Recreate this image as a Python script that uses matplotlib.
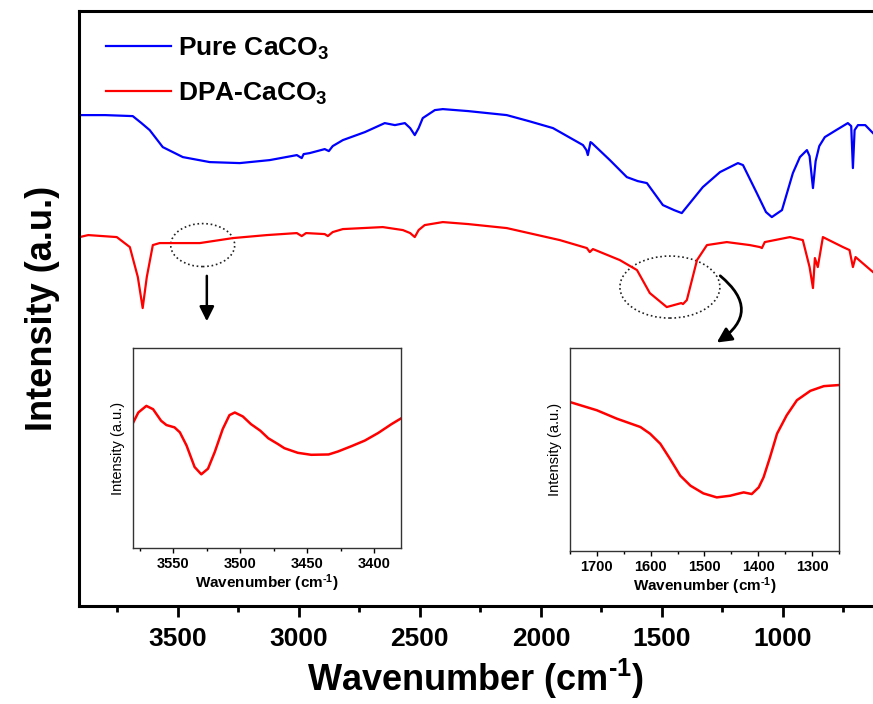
import matplotlib
matplotlib.use('Agg')
import matplotlib.pyplot as plt
from matplotlib.patches import Ellipse, FancyArrowPatch
from matplotlib.ticker import MultipleLocator

plt.rcParams['font.family'] = ['Liberation Sans', 'DejaVu Sans']
plt.rcParams['mathtext.fontset'] = 'custom'
plt.rcParams['mathtext.rm'] = 'Liberation Sans:bold'
plt.rcParams['mathtext.default'] = 'rm'

# 主图数据 (波数, 强度 a.u.)
wn_pure = [3905, 3800, 3686, 3650, 3616, 3562, 3479, 3368, 3244, 3120, 3008, 2988, 2980,
           2955, 2893, 2876, 2860, 2818, 2727, 2645, 2603, 2562, 2540, 2521, 2505, 2488,
           2438, 2405, 2300, 2141, 2050, 1950, 1826, 1812, 1806, 1795, 1789, 1715, 1645,
           1600, 1562, 1496, 1450, 1418, 1331, 1260, 1186, 1165, 1108, 1070, 1046, 1004,
           959, 930, 901, 890, 876, 865, 850, 827, 780, 732, 718, 711, 704, 690, 660, 628]
int_pure = [49.1, 49.1, 49.0, 48.3, 47.6, 45.9, 44.9, 44.4, 44.3, 44.6, 45.1, 44.8, 45.2,
            45.3, 45.7, 45.5, 46.0, 46.6, 47.4, 48.3, 48.1, 48.3, 47.8, 47.1, 47.8, 48.8,
            49.6, 49.7, 49.5, 49.1, 48.5, 47.8, 46.1, 45.6, 45.1, 46.4, 46.3, 44.6, 42.9,
            42.5, 42.3, 40.1, 39.6, 39.3, 41.9, 43.4, 44.3, 44.1, 41.3, 39.4, 38.9, 39.6,
            43.3, 44.9, 45.6, 45.0, 41.8, 44.5, 46.0, 46.9, 47.6, 48.3, 48.0, 43.8, 47.6,
            48.1, 48.1, 47.3]

wn_dpa = [3905, 3870, 3752, 3698, 3665, 3645, 3628, 3603, 3575, 3409, 3272, 3132, 3008,
          2988, 2970, 2893, 2880, 2860, 2818, 2653, 2570, 2540, 2521, 2505, 2480, 2405,
          2300, 2141, 1922, 1810, 1798, 1785, 1674, 1603, 1550, 1480, 1450, 1420, 1413,
          1397, 1355, 1314, 1232, 1137, 1095, 1087, 1075, 971, 918, 890, 876, 868, 856,
          835, 752, 725, 711, 700, 628]
int_dpa = [36.9, 37.1, 36.9, 35.9, 32.9, 29.8, 32.9, 36.1, 36.3, 36.3, 36.8, 37.1, 37.3,
           37.0, 37.3, 37.2, 37.0, 37.4, 37.7, 37.9, 37.6, 37.3, 36.9, 37.6, 38.1, 38.4,
           38.2, 37.8, 36.6, 35.8, 35.4, 35.7, 34.6, 33.6, 31.3, 29.9, 30.1, 30.3, 30.2,
           30.6, 34.6, 36.1, 36.4, 36.1, 35.9, 35.8, 36.4, 36.9, 36.6, 33.9, 31.8, 34.8,
           33.9, 36.9, 35.9, 35.6, 33.9, 34.9, 33.4]

# 左侧放大图
wn_ins1 = [3581, 3576, 3570, 3565, 3559, 3555, 3549, 3545, 3540, 3534, 3529, 3524, 3519,
           3513, 3508, 3504, 3498, 3492, 3485, 3479, 3472, 3467, 3457, 3447, 3434, 3427,
           3417, 3407, 3397, 3387, 3380]
int_ins1 = [370, 410, 430, 420, 385, 372, 365, 350, 310, 245, 223, 240, 290, 360, 402, 410,
            398, 375, 355, 332, 315, 302, 288, 282, 283, 292, 308, 325, 348, 375, 392]

# 右侧放大图
wn_ins2 = [1751, 1700, 1663, 1619, 1601, 1582, 1564, 1545, 1526, 1502, 1477, 1452, 1440,
           1427, 1412, 1399, 1390, 1378, 1365, 1347, 1328, 1303, 1278, 1252]
int_ins2 = [445, 420, 395, 370, 350, 320, 275, 225, 195, 172, 160, 165, 170, 175, 170, 190,
            220, 280, 350, 405, 450, 478, 492, 495]

xlab = r'Wavenumber (cm$^{\text{-1}}$)'

fig = plt.figure(figsize=(8.73, 7.04), dpi=100)
ax = fig.add_axes([0.0905, 0.1392, 0.9095, 0.845])

ax.plot(wn_pure, int_pure, color='#0000ff', lw=1.6, label=r'Pure CaCO$_3$')
ax.plot(wn_dpa, int_dpa, color='#ff0000', lw=1.6, label=r'DPA-CaCO$_3$')
ax.set_xlim(3908, 628)
ax.set_ylim(0, 59.5)
ax.set_yticks([])
ax.xaxis.set_major_locator(MultipleLocator(500))
ax.xaxis.set_minor_locator(MultipleLocator(250))
ax.tick_params(axis='x', which='major', direction='out', length=8, width=2, pad=7)
ax.tick_params(axis='x', which='minor', direction='out', length=4.5, width=2)
for lab in ax.get_xticklabels():
    lab.set_fontsize(19)
    lab.set_fontweight('bold')
for s in ['left', 'bottom', 'top']:
    ax.spines[s].set_linewidth(2.2)
ax.spines['right'].set_visible(False)
ax.set_xlabel(xlab, fontsize=26, fontweight='bold', labelpad=4)
ax.set_ylabel('Intensity (a.u.)', fontsize=26, fontweight='bold', labelpad=14)

leg = ax.legend(loc='upper left', frameon=False, prop={'size': 19, 'weight': 'bold'},
                handlelength=2.45, handletextpad=0.3, labelspacing=0.7,
                bbox_to_anchor=(-0.006, 1.012), borderaxespad=0.8)

# 虚线椭圆和箭头
ax.add_patch(Ellipse((3397, 36.1), width=264, height=4.3, fill=False, ls=':', lw=1.2,
                     color='#222222'))
ax.add_patch(Ellipse((1467, 31.9), width=413, height=6.2, fill=False, ls=':', lw=1.2,
                     color='#222222'))
ax.annotate('', xy=(3380, 28.2), xytext=(3380, 33.3),
            arrowprops=dict(arrowstyle='-|>', lw=1.8, color='black', mutation_scale=22))
ax.add_patch(FancyArrowPatch((1268, 33.2), (1283, 26.2), connectionstyle='arc3,rad=-0.7',
                             arrowstyle='-|>', lw=2.0, color='black', mutation_scale=22))

def style_inset(a):
    a.set_yticks([])
    a.tick_params(axis='x', which='major', direction='out', length=3.5, width=1, pad=3,
                  labelsize=10.5)
    a.tick_params(axis='x', which='minor', direction='out', length=2, width=1)
    for lab in a.get_xticklabels():
        lab.set_fontweight('bold')
    for s in a.spines.values():
        s.set_linewidth(1.0)
        s.set_color('#333333')
    a.set_xlabel(xlab, fontsize=11, fontweight='bold', labelpad=1)
    a.set_ylabel('Intensity (a.u.)', fontsize=10.5, labelpad=6)

ins1 = fig.add_axes([0.1523, 0.2216, 0.307, 0.284])
ins1.plot(wn_ins1, int_ins1, color='#ff0000', lw=1.8)
ins1.set_xlim(3580, 3380)
ins1.set_ylim(0, 605)
ins1.xaxis.set_major_locator(MultipleLocator(50))
ins1.xaxis.set_minor_locator(MultipleLocator(25))
style_inset(ins1)

ins2 = fig.add_axes([0.6529, 0.2173, 0.308, 0.288])
ins2.plot(wn_ins2, int_ins2, color='#ff0000', lw=1.8)
ins2.set_xlim(1750, 1250)
ins2.set_ylim(0, 605)
ins2.xaxis.set_major_locator(MultipleLocator(100))
ins2.xaxis.set_minor_locator(MultipleLocator(50))
style_inset(ins2)

fig.savefig('out.png', dpi=100)
